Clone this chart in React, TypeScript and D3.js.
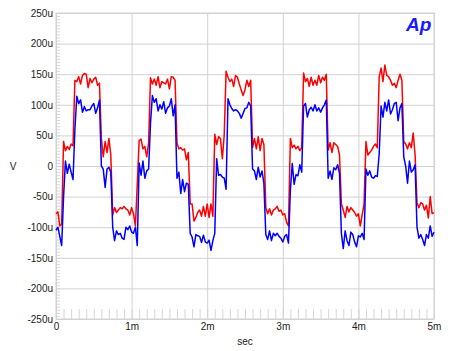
import { useEffect, useRef } from "react";
import * as d3 from "d3";

// sample spacing of the captured waveform (ms)
const SAMPLE_STEP_MS = 0.025;

// channel A (red), microvolts, one row per millisecond
const redUv = [
  -78, -75, -98, -95, 40, 25, 32, 27, 36, 33, 140, 138, 146, 134, 148, 151, 150, 128, 143, 136,
  142, 145, 132, 135, 45, 15, 40, 22, 45, 18, -80, -68, -76, -72, -68, -70, -66, -70, -72, -80,
  -68, -78, -98, -30, 42, 44, 28, 32, 15, 38, 144, 134, 142, 132, 146, 128, 138, 136, 134, 142,
  126, 146, 145, 140, 38, 28, 30, 26, 28, 10, 22, -62, -62, -90, -84, -76, -72, -82, -66, -82,
  -62, -84, -62, -82, 52, 35, 48, 45, 12, 50, 155, 145, 138, 142, 130, 148, 145, 134, 124, 115,
  125, 140, 130, 140, 30, 45, 28, 48, 25, 45, 35, -68, -78, -70, -80, -72, -70, -66, -74, -72,
  -80, -78, -92, -98, 45, 30, 34, 28, 32, 25, 30, 152, 138, 143, 130, 145, 132, 140, 132, 148,
  136, 145, 140, 150, 26, 38, 22, 38, 35, 32, 18, -62, -72, -84, -66, -75, -68, -72, -76, -82,
  -78, -98, -80, -62, 40, 18, 22, 26, 32, 36, 30, 146, 160, 138, 165, 148, 146, 140, 132, 135,
  128, 140, 150, 140, 40, 36, 28, 38, 30, 54, 18, -60, -68, -60, -62, -72, -64, -85, -50, -78,
  -76,
];

// channel B (blue), microvolts
const blueUv = [
  -105, -100, -115, -130, -50, 8, -12, 3, -10, -22, 60, 114, 102, 108, 88, 97, 90, 92, 92, 98,
  102, 86, 95, 108, 0, -5, -35, -5, -2, -10, -100, -122, -106, -112, -110, -118, -120, -100, -104, -98,
  -108, -110, -100, -130, 5, -15, 8, -20, -8, -5, 70, 115, 104, 110, 90, 100, 93, 105, 86, 95,
  98, 110, 82, 100, -20, -10, -45, -22, -42, -28, -30, -110, -116, -132, -112, -114, -115, -125, -113, -124,
  -126, -121, -138, -122, -110, 12, -15, -14, -18, -20, -38, 110, 100, 94, 90, 92, 90, 86, 78, 86,
  94, 95, 104, 98, -5, -8, -22, -2, -18, -8, -28, -112, -120, -106, -122, -110, -114, -110, -115, -118,
  -124, -115, -112, -126, -40, 4, -30, -14, -16, 2, -10, 98, 102, 80, 92, 96, 90, 100, 90, 95,
  88, 95, 100, 108, -20, -8, -22, -3, -6, 2, -12, -110, -135, -106, -122, -130, -108, -112, -124, -132,
  -114, -116, -110, -120, -5, -15, -8, -18, -20, -16, -17, 20, 98, 80, 104, 90, 108, 85, 92, 102,
  104, 74, 95, 102, 15, 0, -28, 8, -10, -6, 2, -100, -118, -112, -120, -130, -112, -118, -98, -115,
  -108,
];

const yTicks = [-250, -200, -150, -100, -50, 0, 50, 100, 150, 200, 250];
const xTicks = [0, 1, 2, 3, 4, 5];
const xTickLabels = ["0", "1m", "2m", "3m", "4m", "5m"];

const FONT = "'Liberation Sans', Arial, sans-serif";

const ScopeChart = () => {
  const svgRef = useRef<SVGSVGElement | null>(null);

  useEffect(() => {
    const width = 450;
    const height = 351;
    const margin = { top: 13, right: 16, bottom: 32, left: 56 };
    const w = width - margin.left - margin.right;
    const h = height - margin.top - margin.bottom;

    const svg = d3.select(svgRef.current);
    svg.selectAll("*").remove();
    svg.append("rect").attr("width", width).attr("height", height).attr("fill", "#fff");

    const g = svg.append("g").attr("transform", `translate(${margin.left},${margin.top})`);

    const x = d3.scaleLinear().domain([0, 5]).range([0, w]);
    const y = d3.scaleLinear().domain([-250, 250]).range([h, 0]);

    // ---- minor ticks ----
    g.append("g")
      .call(d3.axisLeft(y).tickValues(d3.range(-250, 251, 5)).tickSize(-4).tickFormat(() => ""))
      .call((a) => a.select(".domain").remove())
      .selectAll("line")
      .attr("stroke", "#d6d6d6");

    g.append("g")
      .attr("transform", `translate(0,${h})`)
      .call(d3.axisBottom(x).tickValues(d3.range(0, 5.01, 0.1)).tickSize(-10).tickFormat(() => ""))
      .call((a) => a.select(".domain").remove())
      .selectAll("line")
      .attr("stroke", "#d6d6d6");

    // ---- grid + labels ----
    const yAxis = g
      .append("g")
      .call(
        d3
          .axisLeft(y)
          .tickValues(yTicks)
          .tickSize(-w)
          .tickPadding(3)
          .tickFormat((d) => (+d === 0 ? "0" : `${d}u`))
      );
    yAxis.select(".domain").remove();
    yAxis.selectAll("line").attr("stroke", "#d2d2d2");
    yAxis.selectAll("text").attr("font-family", FONT).attr("font-size", 10).attr("fill", "#222");

    const xAxis = g
      .append("g")
      .attr("transform", `translate(0,${h})`)
      .call(
        d3
          .axisBottom(x)
          .tickValues(xTicks)
          .tickSize(-h)
          .tickPadding(4)
          .tickFormat((d, i) => xTickLabels[i])
      );
    xAxis.select(".domain").remove();
    xAxis.selectAll("line").attr("stroke", "#d2d2d2");
    xAxis.selectAll("text").attr("font-family", FONT).attr("font-size", 10).attr("fill", "#222");

    // frame
    g.append("rect")
      .attr("width", w)
      .attr("height", h)
      .attr("fill", "none")
      .attr("stroke", "#d2d2d2");

    // ---- traces ----
    const line = d3
      .line<number>()
      .x((_, i) => x(i * SAMPLE_STEP_MS))
      .y((d) => y(d));

    g.append("path")
      .datum(redUv)
      .attr("d", line)
      .attr("fill", "none")
      .attr("stroke", "#ff0000")
      .attr("stroke-width", 1.5)
      .attr("stroke-linejoin", "round");

    g.append("path")
      .datum(blueUv)
      .attr("d", line)
      .attr("fill", "none")
      .attr("stroke", "#0000ff")
      .attr("stroke-width", 1.5)
      .attr("stroke-linejoin", "round");

    // ---- axis titles + logo ----
    svg.append("text")
      .attr("x", 13)
      .attr("y", margin.top + y(0))
      .attr("dy", "0.35em")
      .attr("text-anchor", "middle")
      .attr("font-family", FONT)
      .attr("font-size", 10)
      .attr("fill", "#222")
      .text("V");

    svg.append("text")
      .attr("x", margin.left + w / 2)
      .attr("y", 345)
      .attr("text-anchor", "middle")
      .attr("font-family", FONT)
      .attr("font-size", 10)
      .attr("fill", "#222")
      .text("sec");

    svg.append("text")
      .attr("x", 406)
      .attr("y", 31)
      .attr("font-family", FONT)
      .attr("font-size", 19)
      .attr("font-weight", "bold")
      .attr("font-style", "italic")
      .attr("fill", "#1a1aff")
      .text("Ap");
  }, []);

  return (
    <svg
      ref={svgRef}
      width={450}
      height={351}
      style={{ position: "absolute", left: 0, top: 0, display: "block" }}
    />
  );
};

export default function App() {
  return <ScopeChart />;
}
